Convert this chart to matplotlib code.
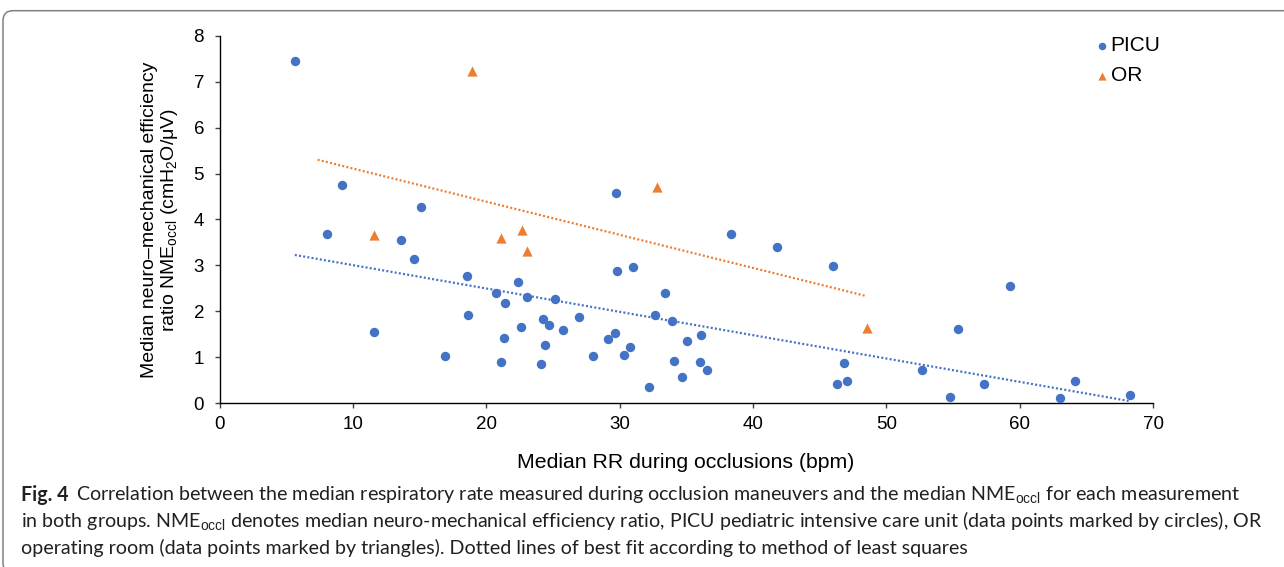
import numpy as np
import matplotlib
matplotlib.use('Agg')
import matplotlib.pyplot as plt
from matplotlib.patches import FancyBboxPatch
from matplotlib.transforms import IdentityTransform

# ---------------- data ----------------
picu_rr = [5.65, 8.09, 9.16, 11.56, 13.59, 14.59, 15.14, 16.94, 18.54, 18.64,
           20.72, 21.42, 22.35, 23.07, 25.17, 24.25, 24.70, 25.75, 26.95, 21.32,
           22.60, 24.38, 21.10, 24.12, 27.98, 29.11, 29.65, 29.80, 30.98, 30.31,
           30.76, 32.21, 29.71, 38.39, 41.82, 46.02, 59.31, 55.41, 33.38, 32.66,
           33.96, 36.09, 35.08, 34.08, 36.06, 36.58, 34.71, 46.80, 46.32, 47.05,
           52.68, 57.31, 54.78, 63.06, 64.14, 68.27]
picu_nme = [7.45, 3.68, 4.75, 1.56, 3.56, 3.15, 4.27, 1.03, 2.76, 1.93,
            2.40, 2.18, 2.65, 2.31, 2.26, 1.84, 1.70, 1.59, 1.87, 1.43,
            1.67, 1.26, 0.89, 0.85, 1.04, 1.41, 1.52, 2.88, 2.96, 1.05,
            1.22, 0.36, 4.58, 3.68, 3.41, 2.99, 2.56, 1.62, 2.39, 1.93,
            1.80, 1.49, 1.36, 0.91, 0.89, 0.72, 0.57, 0.88, 0.43, 0.48,
            0.73, 0.41, 0.13, 0.12, 0.48, 0.17]
or_rr = [11.56, 18.92, 21.12, 22.65, 23.05, 32.83, 48.57]
or_nme = [3.66, 7.23, 3.60, 3.78, 3.32, 4.70, 1.64]
series_names = ['PICU', 'OR']
x_ticks = [0, 10, 20, 30, 40, 50, 60, 70]
y_ticks = [0, 1, 2, 3, 4, 5, 6, 7, 8]

x_label = 'Median RR during occlusions (bpm)'
y_label = ('Median neuro\u2013mechanical efficiency\n'
           'ratio NME$_{\\mathrm{occl}}$ (cmH$_{\\mathrm{2}}$O/\u03bcV)')
cap_bold = 'Fig. 4'
cap_lines = [
    'Correlation between the median respiratory rate measured during occlusion maneuvers and the median NME$_{\\mathrm{occl}}$ for each measurement',
    'in both groups. NME$_{\\mathrm{occl}}$ denotes median neuro-mechanical efficiency ratio, PICU pediatric intensive care unit (data points marked by circles), OR',
    'operating room (data points marked by triangles). Dotted lines of best fit according to method of least squares',
]

# ---------------- style ----------------
plt.rcParams['font.family'] = ['Liberation Sans', 'DejaVu Sans']
plt.rcParams['mathtext.fontset'] = 'custom'
plt.rcParams['mathtext.rm'] = 'Liberation Sans'
plt.rcParams['mathtext.it'] = 'Liberation Sans:italic'
plt.rcParams['mathtext.bf'] = 'Liberation Sans:bold'

BLUE = '#4472C4'
ORANGE = '#ED7D31'
W, H = 1284, 567

fig = plt.figure(figsize=(W / 100, H / 100), dpi=100)
ax_l, ax_r, ax_t, ax_b = 219.5, 1153.0, 35.7, 403.3
ax = fig.add_axes([ax_l / W, 1 - ax_b / H, (ax_r - ax_l) / W, (ax_b - ax_t) / H])

ax.scatter(picu_rr, picu_nme, s=46, color=BLUE, marker='o', linewidths=0,
           zorder=3, label=series_names[0])
ax.scatter(or_rr, or_nme, s=54, color=ORANGE, marker='^', linewidths=0,
           zorder=3, label=series_names[1])


def fit_line(x, y, back=0.0, fwd=0.0):
    k, b = np.polyfit(x, y, 1)
    xs = np.array([min(x) - back, max(x) + fwd])
    return xs, k * xs + b


xs, ys = fit_line(picu_rr, picu_nme)
ax.plot(xs, ys, color=BLUE, lw=1.6, ls=(0, (0.9, 1.0)), zorder=2)
xs, ys = fit_line(or_rr, or_nme, back=4.2, fwd=-0.2)
ax.plot(xs, ys, color=ORANGE, lw=1.6, ls=(0, (0.9, 1.0)), zorder=2)

ax.set_xlim(0, 70)
ax.set_ylim(0, 8)
ax.set_xticks(x_ticks)
ax.set_yticks(y_ticks)
for s in ('top', 'right'):
    ax.spines[s].set_visible(False)
for s in ('left', 'bottom'):
    ax.spines[s].set_color('#000000')
    ax.spines[s].set_linewidth(1.0)
ax.tick_params(axis='both', direction='out', length=3.6, width=1.0,
               color='#404040', labelsize=13.5, labelcolor='#000000')
ax.tick_params(axis='x', pad=5.5)
ax.tick_params(axis='y', pad=7.5)

leg = ax.legend(loc='upper left', bbox_to_anchor=(1097 / W, 1 - 36 / H),
                bbox_transform=fig.transFigure, frameon=False, fontsize=15,
                handlelength=0.45, handletextpad=0.2, labelspacing=0.55,
                borderpad=0, borderaxespad=0, scatterpoints=1, markerscale=0.8)

fig.text(686 / W, 1 - 463 / H, x_label, ha='center', va='center', fontsize=15.3)
fig.text(160.5 / W, 1 - 219.5 / H, y_label, rotation=90, ha='center',
         va='center', multialignment='center', fontsize=14, linespacing=1.0)

# caption
cap_font = ['Lato', 'DejaVu Sans']
cap_size = 14.1
cap_color = '#231f20'
cap_y = [495, 521, 548]
fig.canvas.draw()
r = fig.canvas.get_renderer()
tb = fig.text(21 / W, 1 - cap_y[0] / H, cap_bold, fontweight='bold',
              family=cap_font, fontsize=cap_size, color=cap_color, va='center')
bb = tb.get_window_extent(renderer=r)
fig.text((bb.x1 + 8) / W, 1 - cap_y[0] / H, cap_lines[0], family=cap_font,
         fontsize=cap_size, color=cap_color, va='center')
for line, yy in zip(cap_lines[1:], cap_y[1:]):
    fig.text(21 / W, 1 - yy / H, line, family=cap_font, fontsize=cap_size,
             color=cap_color, va='center')

# outer rounded frame
frame = FancyBboxPatch((3, -6), 1320, 556.3 + 6,
                       boxstyle='round,pad=0,rounding_size=10',
                       transform=IdentityTransform(), facecolor='none',
                       edgecolor='#808080', linewidth=1.1)
fig.add_artist(frame)

fig.savefig('out.png', dpi=100)
